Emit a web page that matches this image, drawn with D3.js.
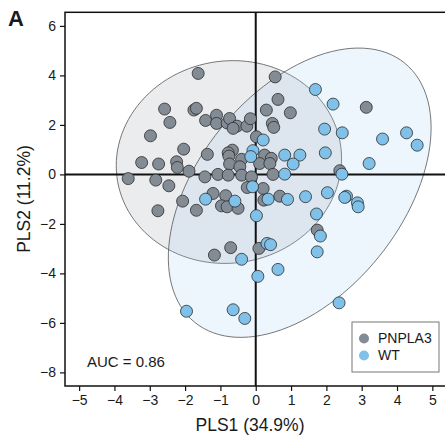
<!DOCTYPE html>
<html>
<head>
<meta charset="utf-8">
<script src="https://cdn.jsdelivr.net/npm/d3@7"></script>
<style>
  body { margin: 0; background: #fff; }
  text { font-family: "Liberation Sans", Arial, sans-serif; fill: #1a1a1a; }
</style>
</head>
<body>
<svg id="plot" width="445" height="440"></svg>
<script>
// PNPLA3 group scores
let pnplaX = [-1.63, 0.55, 0.63, -2.58, -1.75, -1.68, -2.43, 0.30, 0.98, -1.11, -1.42, -1.11, -0.81, -0.74, -0.53, -0.64, -0.25, -0.15, 0.47, 0.51,
  -2.98, -2.04, -3.23, -2.75, -2.24, -2.22, -1.89, -3.61, -2.83, -2.46, 0.02, -1.37, -0.66, -0.78, -0.76, -0.40, -0.74, 0.25, 0.44, 0.11,
  0.40, -0.45, -1.44, -1.07, -0.78, -0.40, -0.12, 0.49, 2.38, 3.13, -1.21, -0.85, -2.07, -1.68, -2.77, -0.97, -0.81, -0.50, -0.24, 0.21,
  0.23, 0.68, 1.74, -0.71, -1.17, 0.09];
let pnplaY = [4.08, 3.94, 3.03, 2.64, 2.60, 2.67, 2.10, 2.60, 2.49, 2.39, 2.18, 2.06, 2.08, 2.26, 1.95, 1.86, 1.95, 2.25, 2.06, 1.90,
  1.56, 1.02, 0.48, 0.42, 0.51, 0.28, 0.13, -0.17, -0.23, -0.46, 1.52, 0.81, 0.98, 0.87, 0.74, 0.61, 0.42, 0.78, 0.65, 0.44,
  0.44, 0.31, -0.10, 0.00, -0.03, -0.03, -0.10, 0.00, 0.15, 2.71, -0.77, -0.86, -1.08, -1.45, -1.47, -1.27, -1.31, -1.37, -0.53, -0.57,
  -1.04, -0.88, -2.25, -2.96, -3.26, -2.99];

// WT group scores
let wtX = [1.69, 2.19, 1.95, 2.45, 3.59, 4.27, 4.57, 1.97, 3.21, 2.44, 0.21, -0.08, -0.14, 0.82, 1.25, 1.06, 0.82, -0.09, -1.42, -0.59,
  0.35, 0.90, 1.41, 2.03, 2.57, 2.52, 2.88, 2.90, 0.02, 1.72, 1.83, 0.32, 0.42, -0.40, 1.74, 0.63, 0.06, -1.96, -0.64, -0.31, 2.36];
let wtY = [3.43, 2.84, 1.83, 1.68, 1.43, 1.68, 1.18, 0.87, 0.44, 0.01, 1.39, 0.96, 0.72, 0.78, 0.78, 0.42, 0.01, -0.50, -1.00, -1.08,
  -1.00, -1.01, -0.90, -0.74, -0.88, -0.93, -1.15, -1.31, -1.67, -1.60, -2.49, -2.79, -2.84, -3.43, -3.13, -3.84, -4.12, -5.53, -5.47, -5.82, -5.19];

// confidence ellipses: [centerX, centerY, axis A (x, y), axis B (x, y)] in data units
let pnplaEllipse = [-0.76, 0.50, 3.15, 0.79, 0.50, -4.02];
let wtEllipse = [1.245, -0.74, 2.97, 5.24, 2.24, -2.59];

let xTicks = [-5, -4, -3, -2, -1, 0, 1, 2, 3, 4, 5];
let yTicks = [-8, -6, -4, -2, 0, 2, 4, 6];
let groups = ["PNPLA3", "WT"];

let svg = d3.select("#plot");

let x = d3.scaleLinear().domain([-5.4, 5.5]).range([65, 450]);
let y = d3.scaleLinear().domain([-8.55, 6.55]).range([386, 12.3]);
let fillColor = d3.scaleOrdinal().domain(groups).range(["#838b95", "#80c1ea"]);

function ellipsePath(e) {
  let pts = d3.range(0, 360, 3).map(function(a) {
    let t = a * Math.PI / 180;
    return [x(e[0] + Math.cos(t) * e[2] + Math.sin(t) * e[4]),
            y(e[1] + Math.cos(t) * e[3] + Math.sin(t) * e[5])];
  });
  return d3.line().curve(d3.curveCardinalClosed)(pts);
}

svg.append("path")
    .attr("d", ellipsePath(pnplaEllipse))
    .attr("fill", "#9aa0a8").attr("fill-opacity", 0.2)
    .attr("stroke", "#555").attr("stroke-width", 0.8);

svg.append("path")
    .attr("d", ellipsePath(wtEllipse))
    .attr("fill", "#a6d0f0").attr("fill-opacity", 0.2)
    .attr("stroke", "#555").attr("stroke-width", 0.8);

// zero lines
svg.append("line")
    .attr("x1", x.range()[0]).attr("x2", x.range()[1])
    .attr("y1", y(0)).attr("y2", y(0))
    .attr("stroke", "#111").attr("stroke-width", 2);
svg.append("line")
    .attr("x1", x(0)).attr("x2", x(0))
    .attr("y1", y.range()[0]).attr("y2", y.range()[1])
    .attr("stroke", "#111").attr("stroke-width", 2);

// points
let pts = pnplaX.map(function(d, i) { return { g: "PNPLA3", x: d, y: pnplaY[i] }; })
  .concat(wtX.map(function(d, i) { return { g: "WT", x: d, y: wtY[i] }; }));

svg.append("g")
  .selectAll("circle")
  .data(pts)
  .enter().append("circle")
    .attr("cx", function(d) { return x(d.x); })
    .attr("cy", function(d) { return y(d.y); })
    .attr("r", 6)
    .attr("fill", function(d) { return fillColor(d.g); })
    .attr("stroke", "#2b2b2b")
    .attr("stroke-width", 0.8);

// frame (top / left)
svg.append("rect")
    .attr("x", x.range()[0]).attr("y", y.range()[1])
    .attr("width", x.range()[1] - x.range()[0] + 5)
    .attr("height", y.range()[0] - y.range()[1])
    .attr("fill", "none").attr("stroke", "#111").attr("stroke-width", 1.5);

let xAxis = svg.append("g")
    .attr("transform", "translate(0," + y.range()[0] + ")")
    .call(d3.axisBottom(x).tickValues(xTicks).tickSize(5).tickPadding(4).tickFormat(d3.format("d")));
let yAxis = svg.append("g")
    .attr("transform", "translate(" + x.range()[0] + ",0)")
    .call(d3.axisLeft(y).tickValues(yTicks).tickSize(5).tickPadding(4).tickFormat(d3.format("d")));

[xAxis, yAxis].forEach(function(a) {
  a.select(".domain").remove();
  a.selectAll(".tick line").attr("stroke", "#111").attr("stroke-width", 1.2);
  a.selectAll(".tick text")
    .attr("font-family", "Liberation Sans, Arial, sans-serif")
    .attr("font-size", 14).attr("fill", "#1a1a1a");
});

svg.append("text")
    .attr("x", 250).attr("y", 431)
    .attr("text-anchor", "middle").attr("font-size", 17.5)
    .text("PLS1 (34.9%)");

svg.append("text")
    .attr("transform", "translate(30,199) rotate(-90)")
    .attr("text-anchor", "middle").attr("font-size", 17.5)
    .text("PLS2 (11.2%)");

svg.append("text")
    .attr("x", 8).attr("y", 26)
    .attr("font-size", 22).attr("font-weight", "bold")
    .text("A");

svg.append("text")
    .attr("x", 87).attr("y", 367)
    .attr("font-size", 15)
    .text("AUC = 0.86");

// legend
let legend = svg.append("g").attr("transform", "translate(352,322)");
legend.append("rect")
    .attr("width", 87).attr("height", 50)
    .attr("fill", "#fff").attr("stroke", "#777").attr("stroke-width", 1);
let li = legend.selectAll("g.item")
  .data(groups)
  .enter().append("g")
    .attr("transform", function(d, i) { return "translate(12," + (16.5 + i * 17) + ")"; });
li.append("circle").attr("r", 5).attr("fill", fillColor);
li.append("text")
    .attr("x", 14).attr("dy", "0.35em")
    .attr("font-size", 14)
    .text(function(d) { return d; });
</script>
</body>
</html>
